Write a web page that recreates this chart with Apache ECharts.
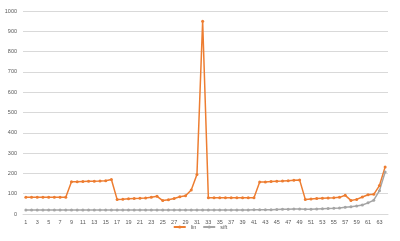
<!DOCTYPE html>
<html><head><meta charset="utf-8">
<script src="https://cdn.jsdelivr.net/npm/echarts@6/dist/echarts.min.js"></script>
<style>html,body{margin:0;padding:0;background:#fff}#c{width:400px;height:241px}</style>
</head><body><div id="c"></div>
<script>
var categories = [];
for (var i = 1; i <= 64; i++) categories.push(String(i));
var linValues = [82,83,83,83,83,83,83,83,
  159,159,160,161,161,162,164,170,
  72,73,75,76,77,79,83,87,66,70,76,85,90,118,195,
  950,
  80,80,80,80,80,80,80,80,80,
  158,158,160,161,162,164,166,168,
  72,74,76,78,79,80,82,
  92,67,72,84,95,97,140,232];
var siftValues = [20,20,20,20,20,20,20,20,20,20,20,20,20,20,20,20,20,20,20,20,
  20,20,20,20,20,20,20,20,20,20,20,20,20,20,20,20,20,20,20,20,
  21,21,21,21,22,23,24,25,25,23,24,25,26,27,28,30,33,36,39,44,55,68,115,207];
var seriesNames = ['lin', 'sift'];
var yTicks = {min: 0, max: 1000, interval: 100};

var chart = echarts.init(document.getElementById('c'));
var font = 'Liberation Sans, Arial, sans-serif';
chart.setOption({
  animation: false,
  grid: {left: 23, right: 12, top: 11, bottom: 27, containLabel: false},
  legend: {
    bottom: 6, left: 'center', itemWidth: 12, itemHeight: 4, itemGap: 6,
    textStyle: {fontSize: 5.5, color: '#595959', fontFamily: font},
    data: seriesNames
  },
  xAxis: {
    type: 'category', data: categories, boundaryGap: true,
    axisLine: {lineStyle: {color: '#d9d9d9', width: 1}},
    axisTick: {show: false},
    axisLabel: {interval: 1, fontSize: 5.5, color: '#595959', fontFamily: font, margin: 5}
  },
  yAxis: {
    type: 'value', min: yTicks.min, max: yTicks.max, interval: yTicks.interval,
    axisLine: {show: false}, axisTick: {show: false},
    splitLine: {lineStyle: {color: '#d9d9d9', width: 1}},
    axisLabel: {fontSize: 5.5, color: '#595959', fontFamily: font, margin: 6,
      formatter: function (v) { return String(v); }}
  },
  series: [
    {name: seriesNames[0], type: 'line', data: linValues, symbol: 'circle', symbolSize: 3,
     lineStyle: {color: '#ED7D31', width: 1.5}, itemStyle: {color: '#ED7D31'}},
    {name: seriesNames[1], type: 'line', data: siftValues, symbol: 'circle', symbolSize: 3,
     lineStyle: {color: '#A5A5A5', width: 1.5}, itemStyle: {color: '#A5A5A5'}}
  ]
});
</script></body></html>
